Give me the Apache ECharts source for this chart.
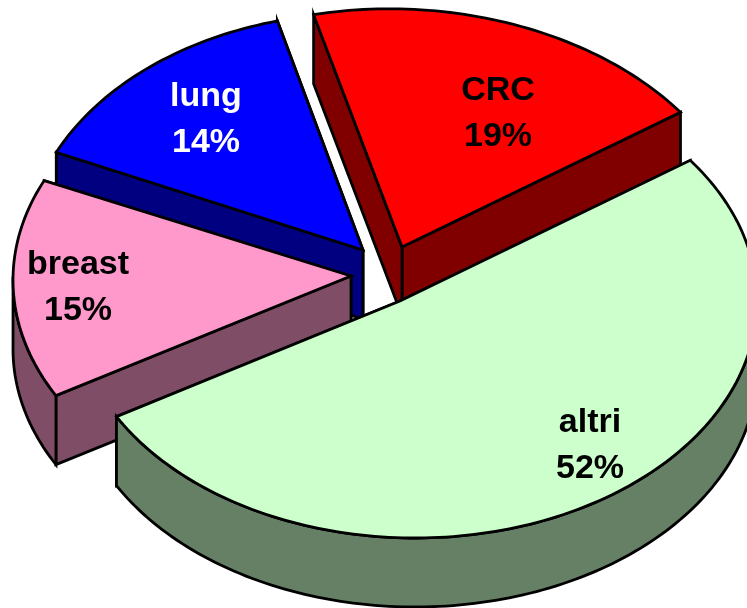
<!DOCTYPE html>
<html><head><meta charset="utf-8">
<style>html,body{margin:0;padding:0;background:#fff}#c{width:747px;height:608px}</style>
<script src="https://cdn.jsdelivr.net/npm/echarts@6/dist/echarts.min.js"></script>
</head><body><div id="c"></div>
<script>
const categories = ['CRC', 'lung', 'breast', 'altri'];
const shares = [19, 14, 15, 52];

const topColors = ['#ff0000', '#0000ff', '#ff99cc', '#ccffcc'];
const sideColors = ['#800000', '#000080', '#804d66', '#668066'];
const START_DEG = 36.4, DEPTH = 69, LINE = 2.8;
// exploded layout of each slice: rim ellipse, slight shear and apex (px)
const layout = [
  {cx: 402, cy: 246, a: 346, b: 237, tilt: 0.025, ax: 402, ay: 247, lx: 498, ly: 114},
  {cx: 364, cy: 253, a: 339, b: 240, tilt: 0, ax: 363, ay: 250, lx: 206, ly: 120},
  {cx: 351, cy: 280, a: 338, b: 237, tilt: 0, ax: 351, ay: 276, lx: 78, ly: 288},
  {cx: 415, cy: 301, a: 342, b: 237, tilt: 0, ax: 400, ay: 301, lx: 590, ly: 446}
];
const total = shares.reduce((s, v) => s + v, 0);

function renderItem(params, api) {
  const i = params.dataIndex;
  let before = 0;
  for (let k = 0; k < i; k++) before += shares[k];
  const value = api.value(0);
  const t0 = (START_DEG + before / total * 360) * Math.PI / 180;
  const t1 = t0 + value / total * 2 * Math.PI;
  const L = layout[i];
  const n = Math.max(12, Math.round(value * 3));
  const rim = [], front = [];
  for (let k = 0; k <= n; k++) {
    const t = t0 + (t1 - t0) * k / n;
    const dx = L.a * Math.cos(t);
    const p = [L.cx + dx, L.cy - L.b * Math.sin(t) + L.tilt * dx];
    rim.push(p);
    if (Math.sin(t) <= 0.02) front.push(p);
  }
  const down = p => [p[0], p[1] + DEPTH];
  const apex = [L.ax, L.ay];
  const face = (pts, fill) => ({
    type: 'polygon', shape: {points: pts},
    style: {fill, stroke: '#000', lineWidth: LINE, lineJoin: 'miter'}
  });
  const first = rim[0], last = rim[rim.length - 1];
  const children = [
    face([apex, first, down(first), down(apex)], sideColors[i]),
    face([apex, last, down(last), down(apex)], sideColors[i])
  ];
  if (front.length > 1) children.push(face(front.concat(front.map(down).reverse()), sideColors[i]));
  children.push(face([apex].concat(rim), topColors[i]));
  children.push({
    type: 'text', z2: 10,
    style: {
      x: L.lx, y: L.ly, text: categories[i] + '\n' + value + '%',
      fill: i === 1 ? '#fff' : '#000', align: 'center', verticalAlign: 'middle',
      font: 'bold 34px "Liberation Sans", Arial, sans-serif', lineHeight: 46
    }
  });
  return {type: 'group', children};
}

const chart = echarts.init(document.getElementById('c'), null, {renderer: 'canvas'});
chart.setOption({
  animation: false,
  backgroundColor: '#fff',
  series: [{
    type: 'custom', coordinateSystem: 'none', renderItem,
    data: shares.map(v => [v]), clip: false, silent: true
  }]
});
</script></body></html>
